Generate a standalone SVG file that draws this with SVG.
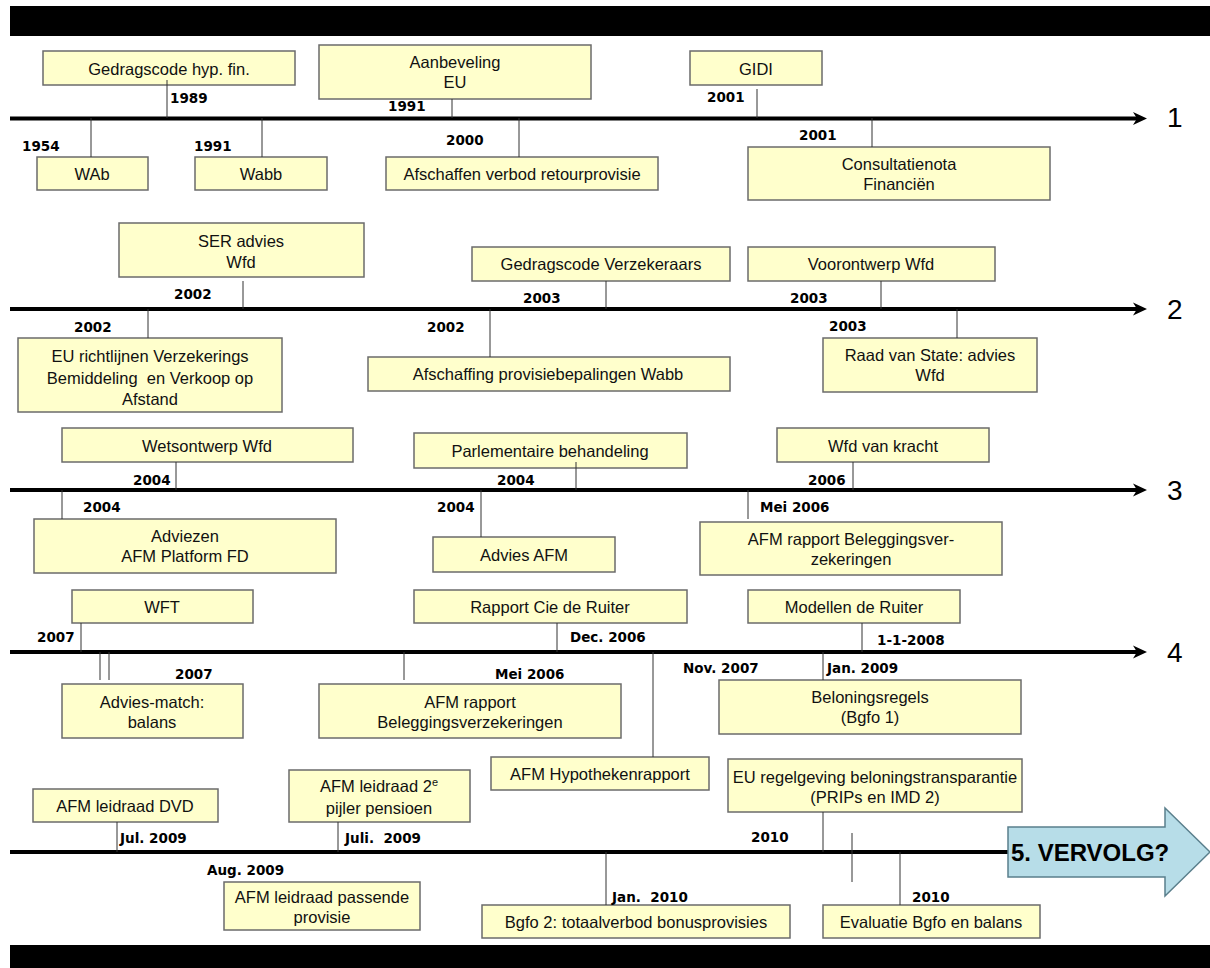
<svg xmlns="http://www.w3.org/2000/svg" width="1210" height="968" viewBox="0 0 1210 968">
<defs>
<style>
.bx{fill:#ffffcc;stroke:#6b6b6b;stroke-width:1.5}
.t{font-family:"Liberation Sans",Arial,sans-serif;font-size:16.5px;fill:#111;text-anchor:middle;white-space:pre}
.y{font-family:"DejaVu Sans","Liberation Sans",sans-serif;font-weight:bold;font-size:13.5px;fill:#000;white-space:pre}
.ax{stroke:#000;stroke-width:4;fill:none}
.ah{fill:#000}
.c{stroke:#333;stroke-width:1;fill:none}
.n{font-family:"Liberation Sans",Arial,sans-serif;font-size:28px;fill:#000}
</style>
</defs>
<rect x="0" y="0" width="1210" height="968" fill="#fff"/>
<rect x="10" y="6" width="1200" height="30" fill="#000"/>
<rect x="10" y="945" width="1200" height="23" fill="#000"/>

<g id="axes">
<line class="ax" x1="10" y1="118.5" x2="1138" y2="118.5"/>
<polygon class="ah" points="1133,112 1147,118.5 1133,125 1137,118.5"/>
<text class="n" x="1167" y="127">1</text>
<line class="ax" x1="10" y1="309" x2="1138" y2="309"/>
<polygon class="ah" points="1133,302.5 1147,309 1133,315.5 1137,309"/>
<text class="n" x="1167" y="319">2</text>
<line class="ax" x1="10" y1="490" x2="1138" y2="490"/>
<polygon class="ah" points="1133,483.5 1147,490 1133,496.5 1137,490"/>
<text class="n" x="1167" y="500">3</text>
<line class="ax" x1="10" y1="652" x2="1138" y2="652"/>
<polygon class="ah" points="1133,645.5 1147,652 1133,658.5 1137,652"/>
<text class="n" x="1167" y="662">4</text>
<line class="ax" x1="10" y1="852" x2="1015" y2="852"/>
</g>

<g id="row1">
<g id="n-gedragscode-hyp"><rect class="bx" x="43" y="51" width="252" height="34"/><text class="t" x="169" y="75">Gedragscode hyp. fin.</text></g>
<g id="n-aanbeveling"><rect class="bx" x="319" y="45" width="272" height="54"/><text class="t" x="455" y="68">Aanbeveling</text><text class="t" x="455" y="88">EU</text></g>
<g id="n-gidi"><rect class="bx" x="690" y="51" width="132" height="34"/><text class="t" x="756" y="75">GIDI</text></g>
<g id="n-wab"><rect class="bx" x="37" y="157" width="111" height="33"/><text class="t" x="92" y="180">WAb</text></g>
<g id="n-wabb"><rect class="bx" x="195" y="157" width="132" height="33"/><text class="t" x="261" y="180">Wabb</text></g>
<g id="n-afschaffen"><rect class="bx" x="386" y="157" width="272" height="33"/><text class="t" x="522" y="180">Afschaffen verbod retourprovisie</text></g>
<g id="n-consultatienota"><rect class="bx" x="748" y="147" width="302" height="53"/><text class="t" x="899" y="170">Consultatienota</text><text class="t" x="899" y="190">Financiën</text></g>
</g>

<g id="row2">
<g id="n-ser"><rect class="bx" x="119" y="223" width="245" height="54"/><text class="t" x="241" y="247">SER advies</text><text class="t" x="241" y="268">Wfd</text></g>
<g id="n-eu-richtlijnen"><rect class="bx" x="18" y="338" width="264" height="74"/><text class="t" x="150" y="362">EU richtlijnen Verzekerings</text><text class="t" x="150" y="384">Bemiddeling  en Verkoop op</text><text class="t" x="150" y="405">Afstand</text></g>
<g id="n-gedragscode-verz"><rect class="bx" x="472" y="247" width="258" height="34"/><text class="t" x="601" y="270">Gedragscode Verzekeraars</text></g>
<g id="n-afschaffing"><rect class="bx" x="368" y="357" width="362" height="34"/><text class="t" x="548" y="380">Afschaffing provisiebepalingen Wabb</text></g>
<g id="n-voorontwerp"><rect class="bx" x="748" y="247" width="247" height="34"/><text class="t" x="871" y="270">Voorontwerp Wfd</text></g>
<g id="n-raad"><rect class="bx" x="823" y="338" width="214" height="54"/><text class="t" x="930" y="361">Raad van State: advies</text><text class="t" x="930" y="381">Wfd</text></g>
</g>

<g id="row3">
<g id="n-wetsontwerp"><rect class="bx" x="62" y="428" width="291" height="34"/><text class="t" x="207" y="452">Wetsontwerp Wfd</text></g>
<g id="n-adviezen"><rect class="bx" x="34" y="519" width="302" height="54"/><text class="t" x="185" y="542">Adviezen</text><text class="t" x="185" y="562">AFM Platform FD</text></g>
<g id="n-parlementaire"><rect class="bx" x="414" y="433" width="273" height="35"/><text class="t" x="550" y="457">Parlementaire behandeling</text></g>
<g id="n-advies-afm"><rect class="bx" x="433" y="537" width="182" height="35"/><text class="t" x="524" y="561">Advies AFM</text></g>
<g id="n-wfd-kracht"><rect class="bx" x="777" y="428" width="212" height="34"/><text class="t" x="883" y="452">Wfd van kracht</text></g>
<g id="n-afm-rapport-1"><rect class="bx" x="700" y="522" width="302" height="53"/><text class="t" x="851" y="545">AFM rapport Beleggingsver-</text><text class="t" x="851" y="565">zekeringen</text></g>
</g>

<g id="row4">
<g id="n-wft"><rect class="bx" x="72" y="590" width="181" height="33"/><text class="t" x="162" y="613">WFT</text></g>
<g id="n-advies-match"><rect class="bx" x="62" y="684" width="181" height="54"/><text class="t" x="152" y="708">Advies-match:</text><text class="t" x="152" y="728">balans</text></g>
<g id="n-rapport-cie"><rect class="bx" x="414" y="590" width="273" height="33"/><text class="t" x="550" y="613">Rapport Cie de Ruiter</text></g>
<g id="n-afm-rapport-2"><rect class="bx" x="319" y="684" width="302" height="54"/><text class="t" x="470" y="708">AFM rapport</text><text class="t" x="470" y="728">Beleggingsverzekeringen</text></g>
<g id="n-hypotheken"><rect class="bx" x="491" y="757" width="218" height="33"/><text class="t" x="600" y="780">AFM Hypothekenrapport</text></g>
<g id="n-modellen"><rect class="bx" x="748" y="590" width="212" height="33"/><text class="t" x="854" y="613">Modellen de Ruiter</text></g>
<g id="n-beloning"><rect class="bx" x="719" y="680" width="302" height="54"/><text class="t" x="870" y="703">Beloningsregels</text><text class="t" x="870" y="723">(Bgfo 1)</text></g>
<g id="n-eu-regelgeving"><rect class="bx" x="728" y="759" width="294" height="53"/><text class="t" x="875" y="783">EU regelgeving beloningstransparantie</text><text class="t" x="875" y="803">(PRIPs en IMD 2)</text></g>
</g>

<g id="row5">
<g id="n-dvd"><rect class="bx" x="33" y="789" width="185" height="33"/><text class="t" x="125" y="812">AFM leidraad DVD</text></g>
<g id="n-pensioen"><rect class="bx" x="289" y="770" width="181" height="52"/><text class="t" x="379" y="792">AFM leidraad 2<tspan font-size="11" dy="-6">e</tspan></text><text class="t" x="379" y="814">pijler pensioen</text></g>
<g id="n-passende"><rect class="bx" x="224" y="882" width="196" height="48"/><text class="t" x="322" y="903">AFM leidraad passende</text><text class="t" x="322" y="923">provisie</text></g>
<g id="n-bgfo2"><rect class="bx" x="482" y="905" width="308" height="33"/><text class="t" x="636" y="928">Bgfo 2: totaalverbod bonusprovisies</text></g>
<g id="n-evaluatie"><rect class="bx" x="823" y="905" width="217" height="33"/><text class="t" x="931" y="928">Evaluatie Bgfo en balans</text></g>
<g id="n-vervolg"><polygon points="1008,827 1165,827 1165,808 1210,852 1165,896 1165,877 1008,877" fill="#b7dde8" stroke="#5a7f8c" stroke-width="1.5"/><text x="1011" y="861" font-family="Liberation Sans,Arial,sans-serif" font-weight="bold" font-size="24" fill="#000">5. VERVOLG?</text></g>
</g>

<g id="years">
<text class="y" x="170" y="103">1989</text>
<text class="y" x="388" y="111">1991</text>
<text class="y" x="707" y="102">2001</text>
<text class="y" x="22" y="151">1954</text>
<text class="y" x="194" y="151">1991</text>
<text class="y" x="446" y="145">2000</text>
<text class="y" x="799" y="140">2001</text>
<text class="y" x="174" y="299">2002</text>
<text class="y" x="74" y="332">2002</text>
<text class="y" x="523" y="303">2003</text>
<text class="y" x="427" y="332">2002</text>
<text class="y" x="790" y="303">2003</text>
<text class="y" x="829" y="331">2003</text>
<text class="y" x="133" y="485">2004</text>
<text class="y" x="83" y="512">2004</text>
<text class="y" x="497" y="485">2004</text>
<text class="y" x="437" y="512">2004</text>
<text class="y" x="808" y="485">2006</text>
<text class="y" x="760" y="512">Mei 2006</text>
<text class="y" x="37" y="642">2007</text>
<text class="y" x="175" y="679">2007</text>
<text class="y" x="570" y="642">Dec. 2006</text>
<text class="y" x="495" y="679">Mei 2006</text>
<text class="y" x="683" y="673">Nov. 2007</text>
<text class="y" x="877" y="645">1-1-2008</text>
<text class="y" x="827" y="673">Jan. 2009</text>
<text class="y" x="120" y="843">Jul. 2009</text>
<text class="y" x="345" y="843">Juli.  2009</text>
<text class="y" x="207" y="875">Aug. 2009</text>
<text class="y" x="612" y="902">Jan.  2010</text>
<text class="y" x="751" y="842">2010</text>
<text class="y" x="912" y="902">2010</text>
</g>

<g id="connectors">
<line class="c" x1="167" y1="80" x2="167" y2="118"/>
<line class="c" x1="452" y1="99" x2="452" y2="118"/>
<line class="c" x1="757" y1="89" x2="757" y2="118"/>
<line class="c" x1="91" y1="118" x2="91" y2="157"/>
<line class="c" x1="262" y1="118" x2="262" y2="157"/>
<line class="c" x1="519" y1="118" x2="519" y2="157"/>
<line class="c" x1="872" y1="118" x2="872" y2="147"/>
<line class="c" x1="243" y1="281" x2="243" y2="309"/>
<line class="c" x1="148" y1="309" x2="148" y2="338"/>
<line class="c" x1="606" y1="281" x2="606" y2="309"/>
<line class="c" x1="490" y1="309" x2="490" y2="357"/>
<line class="c" x1="881" y1="281" x2="881" y2="309"/>
<line class="c" x1="957" y1="309" x2="957" y2="338"/>
<line class="c" x1="176" y1="462" x2="176" y2="490"/>
<line class="c" x1="62" y1="490" x2="62" y2="519"/>
<line class="c" x1="576" y1="462" x2="576" y2="490"/>
<line class="c" x1="481" y1="490" x2="481" y2="537"/>
<line class="c" x1="853" y1="462" x2="853" y2="490"/>
<line class="c" x1="748" y1="490" x2="748" y2="519"/>
<line class="c" x1="81" y1="623" x2="81" y2="652"/>
<line class="c" x1="100" y1="652" x2="100" y2="680"/>
<line class="c" x1="109" y1="652" x2="109" y2="680"/>
<line class="c" x1="557" y1="623" x2="557" y2="652"/>
<line class="c" x1="404" y1="652" x2="404" y2="680"/>
<line class="c" x1="653" y1="652" x2="653" y2="757"/>
<line class="c" x1="862" y1="623" x2="862" y2="652"/>
<line class="c" x1="823" y1="652" x2="823" y2="680"/>
<line class="c" x1="117" y1="822" x2="117" y2="852"/>
<line class="c" x1="338" y1="822" x2="338" y2="852"/>
<line class="c" x1="823" y1="812" x2="823" y2="852"/>
<line class="c" x1="606" y1="852" x2="606" y2="905"/>
<line class="c" x1="852" y1="833" x2="852" y2="882"/>
<line class="c" x1="900" y1="852" x2="900" y2="905"/>
</g>
</svg>
